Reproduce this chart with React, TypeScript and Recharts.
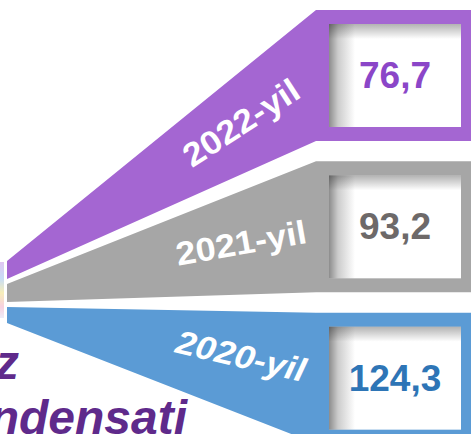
import React from 'react';
import { BarChart, Bar, XAxis, YAxis, Customized } from 'recharts';

// ---- data ----
const years = ['2022-yil', '2021-yil', '2020-yil'];
const values = [76.7, 93.2, 124.3];

// ---- styles ----
const fills = ['#A466D2', '#A6A6A6', '#5B9BD5'];
const valueColors = ['#8B46C8', '#6D6969', '#2E75B6'];
const labelAngles = [-33, -10, 13];
const labelStyles = ['normal', 'normal', 'italic'];
const labelShiftY = [0, 0, -7];

const data = years.map((year, i) => ({ year, value: values[i] }));

const W = 471;
const H = 434;
const FONT = '"Liberation Sans", Arial, sans-serif';

const fmt = (v: number) => v.toFixed(1).replace('.', ',');

const FunnelShape = (props: any) => {
  const { y, height, index, payload } = props;
  const blockX = 316;
  const apexX = 7;
  const apexTop = 261 + index * 23;
  const apexBot = apexTop + (index === 2 ? 16 : 18);
  const top = y;
  const bot = y + height;
  const pts = [
    [apexX, apexTop],
    [blockX, top],
    [W, top],
    [W, bot],
    [blockX, bot],
    [apexX, apexBot],
  ]
    .map((p) => p.join(','))
    .join(' ');

  // label center along funnel midline
  const lx = 241;
  const t = (lx - apexX) / (blockX - apexX);
  const ty = apexTop + (top - apexTop) * t;
  const by = apexBot + (bot - apexBot) * t;
  const ly = (ty + by) / 2 + labelShiftY[index];

  const bx1 = 329;
  const bx2 = 461;
  const by1 = top + 14;
  const by2 = bot - 14;
  const cx = (bx1 + bx2) / 2;
  const cy = (by1 + by2) / 2;

  return (
    <g>
      <defs>
        <linearGradient id={`shL${index}`} x1="0" y1="0" x2="1" y2="0">
          <stop offset="0" stopColor="#000" stopOpacity={0.45} />
          <stop offset="0.35" stopColor="#000" stopOpacity={0.2} />
          <stop offset="1" stopColor="#000" stopOpacity={0} />
        </linearGradient>
        <linearGradient id={`shT${index}`} x1="0" y1="0" x2="0" y2="1">
          <stop offset="0" stopColor="#000" stopOpacity={0.3} />
          <stop offset="1" stopColor="#000" stopOpacity={0} />
        </linearGradient>
      </defs>
      <polygon points={pts} fill={fills[index]} />
      <rect x={bx1} y={by1} width={bx2 - bx1} height={by2 - by1} fill="#fff" />
      <rect x={bx1} y={by1} width={26} height={by2 - by1} fill={`url(#shL${index})`} />
      <rect x={bx1} y={by1} width={bx2 - bx1} height={15} fill={`url(#shT${index})`} />
      <text
        x={cx}
        y={cy}
        textAnchor="middle"
        dominantBaseline="central"
        fontFamily={FONT}
        fontWeight="bold"
        fontSize={37}
        fill={valueColors[index]}
      >
        {fmt(payload.value)}
      </text>
      <text
        x={lx}
        y={ly}
        textAnchor="middle"
        dominantBaseline="central"
        fontFamily={FONT}
        fontWeight="bold"
        fontStyle={labelStyles[index]}
        fontSize={33}
        fill="#fff"
        textLength={132}
        lengthAdjust="spacingAndGlyphs"
        transform={`rotate(${labelAngles[index]} ${lx} ${ly})`}
      >
        {payload.year}
      </text>
    </g>
  );
};

const Extras = () => (
  <g>
    <defs>
      <linearGradient id="strip" x1="0" y1="0" x2="0" y2="1">
        <stop offset="0" stopColor="#d9b8f0" />
        <stop offset="0.3" stopColor="#b9d4f2" />
        <stop offset="0.55" stopColor="#f6eaa8" />
        <stop offset="0.8" stopColor="#f5c6d8" />
        <stop offset="1" stopColor="#e8e8f5" />
      </linearGradient>
    </defs>
    <rect x={0} y={262} width={4} height={56} fill="url(#strip)" opacity={0.8} />
    <text
      x={19}
      y={379}
      textAnchor="end"
      fontFamily={FONT}
      fontWeight="bold"
      fontStyle="italic"
      fontSize={48}
      fill="#5F2A8B"
    >
      gaz
    </text>
    <text
      x={187}
      y={434}
      textAnchor="end"
      fontFamily={FONT}
      fontWeight="bold"
      fontStyle="italic"
      fontSize={48}
      fill="#5F2A8B"
    >
      kondensati
    </text>
  </g>
);

export default function App() {
  return (
    <div
      style={{
        position: 'absolute',
        left: 0,
        top: 0,
        width: W,
        height: H,
        overflow: 'hidden',
        background: '#fff',
      }}
    >
      <BarChart
        width={W}
        height={454}
        data={data}
        layout="vertical"
        margin={{ top: 0, right: 0, bottom: 0, left: 0 }}
        barCategoryGap={10}
      >
        <XAxis type="number" hide domain={[0, 'dataMax']} />
        <YAxis type="category" dataKey="year" hide />
        <Bar dataKey="value" isAnimationActive={false} shape={FunnelShape} />
        <Customized component={Extras} />
      </BarChart>
    </div>
  );
}
